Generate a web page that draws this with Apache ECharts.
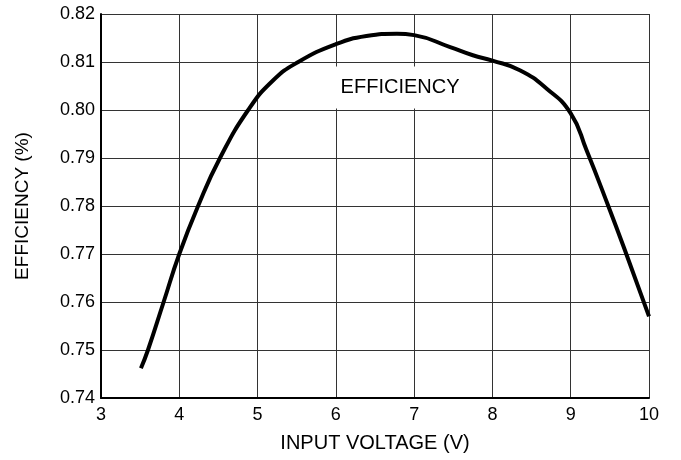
<!DOCTYPE html>
<html>
<head>
<meta charset="utf-8">
<script src="https://cdn.jsdelivr.net/npm/echarts@6/dist/echarts.min.js"></script>
<style>
  html, body { margin: 0; padding: 0; background: #fff; }
  #chart { width: 681px; height: 460px; }
</style>
</head>
<body>
<div id="chart"></div>
<script>
  // input voltage (V) vs efficiency
  const voltage = [3.51, 3.6, 3.8, 4.0, 4.24, 4.52, 4.88, 5.2, 5.52, 6.0, 6.39, 6.78, 7.0, 7.46, 7.75, 8.0, 8.35, 8.69, 9.0, 9.2, 9.48, 9.71, 10.0];
  const efficiency = [0.7462, 0.75, 0.76, 0.77, 0.78, 0.79, 0.80, 0.8062, 0.81, 0.8137, 0.8154, 0.8159, 0.8156, 0.8131, 0.8114, 0.8103, 0.8083, 0.8045, 0.7993, 0.7917, 0.78, 0.77, 0.757];
  const xTicks = [3, 10, 1];
  const yTicks = [0.74, 0.82, 0.01];

  const chart = echarts.init(document.getElementById('chart'));
  const font = 'Liberation Sans, Arial, sans-serif';

  chart.setOption({
    animation: false,
    grid: { left: 101, right: 32, top: 14, bottom: 62 },
    xAxis: {
      type: 'value',
      min: xTicks[0],
      max: xTicks[1],
      interval: xTicks[2],
      name: 'INPUT VOLTAGE (V)',
      nameLocation: 'middle',
      nameGap: 35,
      nameTextStyle: { color: '#000', fontSize: 20, fontFamily: font },
      axisLine: { lineStyle: { color: '#000', width: 2 } },
      axisTick: { show: false },
      axisLabel: { color: '#000', fontSize: 18, fontFamily: font, margin: 8 },
      splitLine: { show: true, lineStyle: { color: '#333', width: 1 } },
    },
    yAxis: {
      type: 'value',
      min: yTicks[0],
      max: yTicks[1],
      interval: yTicks[2],
      name: 'EFFICIENCY (%)',
      nameLocation: 'middle',
      nameGap: 69,
      nameTextStyle: { color: '#000', fontSize: 19, fontFamily: font },
      axisLine: { show: true, lineStyle: { color: '#000', width: 2 } },
      axisTick: { show: false },
      axisLabel: {
        color: '#000',
        fontSize: 18,
        fontFamily: font,
        margin: 6,
        formatter: (v) => v.toFixed(2),
      },
      splitLine: { show: true, lineStyle: { color: '#333', width: 1 } },
    },
    series: [
      {
        type: 'line',
        data: voltage.map((v, i) => [v, efficiency[i]]),
        smooth: 0.5,
        showSymbol: false,
        lineStyle: { color: '#000', width: 4 },
        markPoint: {
          symbolSize: 0,
          data: [{ coord: [6.82, 0.8047] }],
          label: {
            show: true,
            formatter: 'EFFICIENCY',
            color: '#000',
            fontSize: 20,
            fontFamily: font,
            backgroundColor: '#fff',
            padding: [11, 8],
          },
        },
        z: 5,
      },
    ],
  });
</script>
</body>
</html>
